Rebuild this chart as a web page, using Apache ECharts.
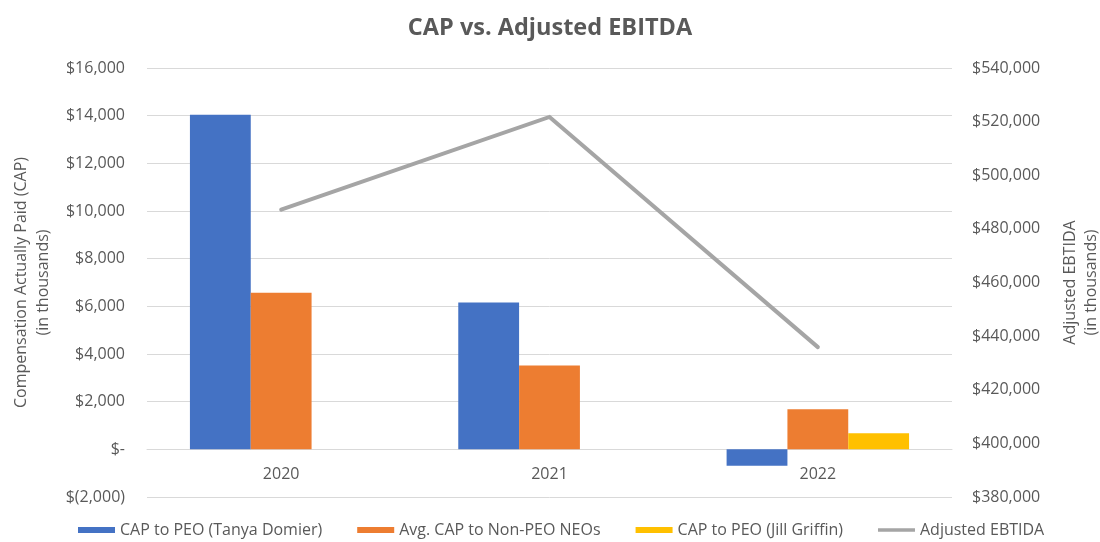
<!DOCTYPE html>
<html>
<head>
<meta charset="utf-8">
<script src="https://cdn.jsdelivr.net/npm/echarts@6/dist/echarts.min.js"></script>
<style>
html,body{margin:0;padding:0;background:#fff;}
#chart{width:1100px;height:542px;}
</style>
</head>
<body>
<div id="chart"></div>
<script>
const categories = ['2020', '2021', '2022'];
const capTanya = [14040, 6165, -690];
const capNonPeo = [6570, 3520, 1680];
const capJill = [null, null, 670];
const adjEbitda = [487200, 521750, 435900];

const leftTicks = { min: -2000, max: 16000, interval: 2000 };
const rightTicks = { min: 380000, max: 540000, interval: 20000 };

function fmtMoney(v) {
  if (v === 0) return '$-';
  const s = Math.abs(v).toLocaleString('en-US');
  return v < 0 ? '$(' + s + ')' : '$' + s;
}

const font = '"Open Sans", "Noto Sans", sans-serif';
const txt = '#595959';
const lineIcon = 'path://M0,1 L40,1 L40,5 L0,5 Z';

const gridTop = 68, gridBottom = 45, chartH = 542;
const plotH = chartH - gridTop - gridBottom;
// distance from the bottom of the plot (min) up to the zero line
const zeroOffset = plotH * (0 - leftTicks.min) / (leftTicks.max - leftTicks.min);

const chart = echarts.init(document.getElementById('chart'));
chart.setOption({
  animation: false,
  backgroundColor: '#ffffff',
  title: {
    text: 'CAP vs. Adjusted EBITDA',
    left: 'center',
    top: 11,
    textStyle: { fontFamily: font, fontSize: 23.5, fontWeight: 'bold', color: txt }
  },
  grid: { left: 147, right: 148, top: gridTop, bottom: gridBottom, outerBoundsMode: 'none', containLabel: false },
  legend: {
    left: 73,
    bottom: -1,
    itemGap: 35,
    itemWidth: 37,
    itemHeight: 6,
    textStyle: { fontFamily: font, fontSize: 16, color: txt },
    data: [
      { name: 'CAP to PEO (Tanya Domier)', icon: 'rect' },
      { name: 'Avg. CAP to Non-PEO NEOs', icon: 'rect' },
      { name: 'CAP to PEO (Jill Griffin)', icon: 'rect' },
      { name: 'Adjusted EBTIDA', icon: lineIcon }
    ]
  },
  xAxis: {
    type: 'category',
    data: categories,
    offset: -zeroOffset,
    axisLine: { onZero: false, lineStyle: { color: '#D9D9D9', width: 1 } },
    axisTick: { show: false },
    axisLabel: { fontFamily: font, fontSize: 16, color: txt, margin: 17 }
  },
  yAxis: [
    {
      type: 'value',
      min: leftTicks.min, max: leftTicks.max, interval: leftTicks.interval,
      name: 'Compensation Actually Paid (CAP)\n(in thousands)',
      nameLocation: 'middle',
      nameRotate: 90,
      nameGap: 88,
      nameTextStyle: { fontFamily: font, fontSize: 16, color: txt, lineHeight: 22 },
      axisLine: { show: false },
      axisTick: { show: false },
      splitLine: { lineStyle: { color: '#D9D9D9', width: 1 } },
      axisLabel: { fontFamily: font, fontSize: 16, color: txt, margin: 22, formatter: fmtMoney }
    },
    {
      type: 'value',
      min: rightTicks.min, max: rightTicks.max, interval: rightTicks.interval,
      name: 'Adjusted EBTIDA\n(in thousands)',
      nameLocation: 'middle',
      nameRotate: 90,
      nameGap: 108,
      nameTextStyle: { fontFamily: font, fontSize: 16, color: txt, lineHeight: 21 },
      axisLine: { show: false },
      axisTick: { show: false },
      splitLine: { show: false },
      axisLabel: { fontFamily: font, fontSize: 16, color: txt, margin: 20, formatter: fmtMoney }
    }
  ],
  series: [
    {
      name: 'CAP to PEO (Tanya Domier)', type: 'bar', data: capTanya,
      itemStyle: { color: '#4472C4' }, barGap: '0%', barCategoryGap: '32%'
    },
    {
      name: 'Avg. CAP to Non-PEO NEOs', type: 'bar', data: capNonPeo,
      itemStyle: { color: '#ED7D31' }, barGap: '0%', barCategoryGap: '32%'
    },
    {
      name: 'CAP to PEO (Jill Griffin)', type: 'bar', data: capJill,
      itemStyle: { color: '#FFC000' }, barGap: '0%', barCategoryGap: '32%'
    },
    {
      name: 'Adjusted EBTIDA', type: 'line', yAxisIndex: 1, data: adjEbitda,
      symbol: 'none',
      lineStyle: { color: '#A5A5A5', width: 4, cap: 'round', join: 'miter' },
      itemStyle: { color: '#A5A5A5' }
    }
  ]
});
</script>
</body>
</html>
